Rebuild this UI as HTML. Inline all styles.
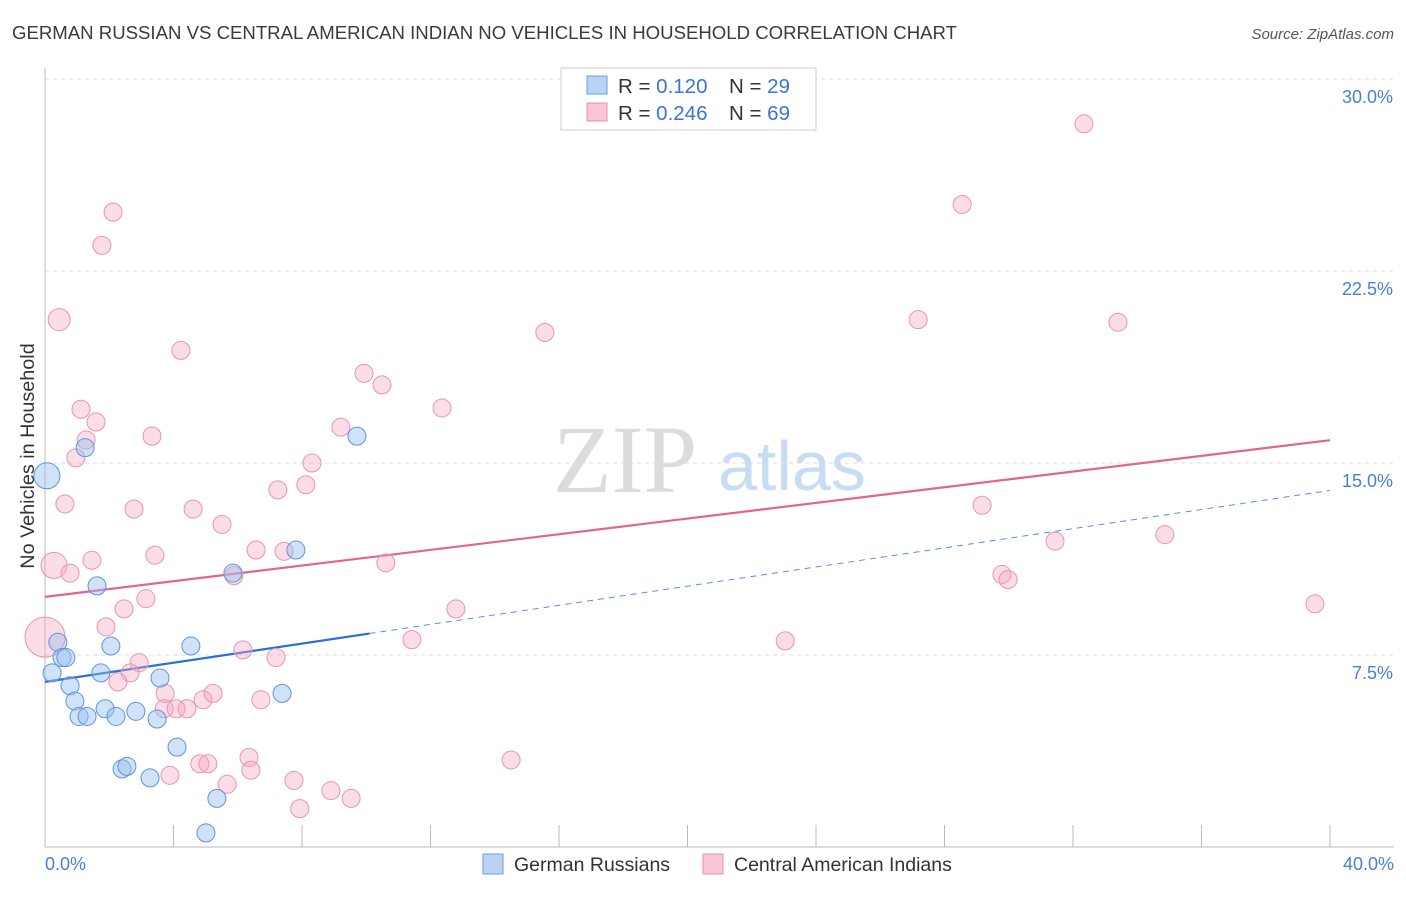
<!DOCTYPE html>
<html><head><meta charset="utf-8"><style>
body{margin:0;background:#fff;font-family:"Liberation Sans",sans-serif}
</style></head><body>
<svg width="1406" height="892" viewBox="0 0 1406 892" xmlns="http://www.w3.org/2000/svg" font-family="Liberation Sans, sans-serif">
<text x="12" y="39" font-size="18.6" fill="#3a3a3a">GERMAN RUSSIAN VS CENTRAL AMERICAN INDIAN NO VEHICLES IN HOUSEHOLD CORRELATION CHART</text>
<text x="1394" y="39" font-size="15" fill="#555" text-anchor="end" font-style="italic">Source: ZipAtlas.com</text>
<g>
<text x="553" y="492" font-size="96" font-family="Liberation Serif, serif" fill="#dcdcdc">ZIP</text>
<text x="718" y="490" font-size="70" fill="#c9dcf3">atlas</text>
</g>
<g id="grid"></g>
<line x1="45" y1="68" x2="45" y2="847" stroke="#bbb"/>
<line x1="45" y1="847" x2="1394" y2="847" stroke="#bbb"/>
<g id="ticks"></g>
<text x="34" y="456" font-size="19.8" fill="#333" text-anchor="middle" transform="rotate(-90 34 456)">No Vehicles in Household</text>
<text x="45" y="870" font-size="18" fill="#4a7fd4">0.0%</text>
<text x="1394" y="870" font-size="18" fill="#4a7fd4" text-anchor="end">40.0%</text>
<g id="lines"></g>
<g id="points"></g>
<g>
<rect x="561" y="68" width="255" height="62" fill="#fff" stroke="#ccc"/>
<rect x="587" y="76" width="20" height="18" fill="#b9d3f5" stroke="#6a9be0"/>
<rect x="587" y="103" width="20" height="18" fill="#f9c6d6" stroke="#e890b0"/>
<text x="618" y="93" font-size="20.5" fill="#333">R = <tspan fill="#3a74d6">0.120</tspan><tspan x="729">N = </tspan><tspan fill="#3a74d6">29</tspan></text>
<text x="618" y="120" font-size="20.5" fill="#333">R = <tspan fill="#3a74d6">0.246</tspan><tspan x="729">N = </tspan><tspan fill="#3a74d6">69</tspan></text>
</g>
<g>
<rect x="483" y="854" width="20" height="20" fill="#b9d3f5" stroke="#6a9be0"/>
<text x="514" y="871" font-size="19.5" fill="#333">German Russians</text>
<rect x="703" y="854" width="20" height="20" fill="#f9c6d6" stroke="#e890b0"/>
<text x="734" y="871" font-size="19.5" fill="#333">Central American Indians</text>
</g>
</svg>
<script>
const yTicks=[7.5,15.0,22.5,30.0];
const yTickLabels=["7.5%","15.0%","22.5%","30.0%"];
const xTicks=[4,8,12,16,20,24,28,32,36,40];
const blueX=[0.06,0.4,0.53,0.65,0.22,0.78,0.93,1.06,1.31,1.25,1.62,2.05,1.74,1.87,2.21,2.4,2.55,2.83,3.27,3.49,3.58,4.11,4.54,5.01,5.35,5.85,7.38,7.81,9.71];
const blueY=[14.5,8.0,7.4,7.4,6.8,6.3,5.7,5.1,5.1,15.6,10.2,7.85,6.8,5.4,5.1,3.05,3.15,5.3,2.7,5.0,6.6,3.9,7.85,0.55,1.9,10.7,6.0,11.6,16.05];
const blueR=[13,9,9,9,9,9,9,9,9,9,9,9,9,9,9,9,9,9,9,9,9,9,9,9,9,9,9,9,9];
const pinkX=[0.44,2.12,1.77,4.23,1.12,1.59,1.28,0.96,0.62,3.33,2.77,0.28,0.78,1.46,3.42,0,1.9,2.46,3.14,2.93,2.65,2.27,3.74,3.71,4.08,4.42,4.92,5.23,4.61,5.51,5.88,6.16,6.57,6.72,7.25,7.44,7.19,8.12,8.31,9.21,9.93,10.49,10.61,12.36,15.56,11.42,12.79,6.35,6.41,5.67,4.82,5.07,3.89,7.75,7.93,8.9,9.53,14.51,23.04,27.18,28.55,29.17,29.79,29.98,31.44,32.34,33.4,34.86,39.53];
const pinkY=[20.6,24.8,23.5,19.4,17.1,16.6,15.9,15.2,13.4,16.05,13.2,11.0,10.7,11.2,11.4,8.2,8.6,9.3,9.7,7.2,6.8,6.45,6.0,5.4,5.4,5.4,5.75,6.0,13.2,12.6,10.6,7.7,11.6,5.75,13.95,11.55,7.4,14.15,15.0,16.4,18.5,18.05,11.1,17.15,20.1,8.1,9.3,3.5,3.0,2.45,3.25,3.25,2.8,2.6,1.5,2.2,1.9,3.4,8.05,20.6,25.1,13.35,10.65,10.45,11.95,28.25,20.5,12.2,9.5];
const pinkBig={0:11,11:13,15:20};
const blueTrend=[6.45,0.187];
const pinkTrend=[9.77,0.153];
const X=v=>45+v*32.125, Y=v=>847-v*25.6;
const NS="http://www.w3.org/2000/svg";
function mk(t,a,p){const e=document.createElementNS(NS,t);for(const k in a)e.setAttribute(k,a[k]);p.appendChild(e);return e;}
const grid=document.getElementById('grid');
yTicks.forEach((t,i)=>{
 const l=mk('line',{x1:45,x2:1394,y1:Y(t),y2:Y(t),stroke:'#ddd','stroke-dasharray':'4,4'},grid);
 
 
 const tx=mk('text',{x:1393,y:Y(t)+24,'font-size':18,fill:'#4a7fd4','text-anchor':'end'},grid);
 tx.textContent=yTickLabels[i];
 
 
});
const ticks=document.getElementById('ticks');
xTicks.forEach(t=>{
 const l=mk('line',{x1:X(t),x2:X(t),y1:825,y2:847,stroke:'#bbb'},ticks);
 
 
});
const lines=document.getElementById('lines');
let l1=mk('line',{x1:X(0),y1:Y(pinkTrend[0]),x2:X(40),y2:Y(pinkTrend[0]+40*pinkTrend[1]),stroke:'#e2648f','stroke-width':2.2},lines);


let l2=mk('line',{x1:X(0),y1:Y(blueTrend[0]),x2:X(10.1),y2:Y(blueTrend[0]+10.1*blueTrend[1]),stroke:'#2a6fd6','stroke-width':2.2},lines);


let l3=mk('line',{x1:X(10.1),y1:Y(blueTrend[0]+10.1*blueTrend[1]),x2:X(40),y2:Y(blueTrend[0]+40*blueTrend[1]),stroke:'#5a8ee0','stroke-width':1,'stroke-dasharray':'6,5'},lines);


const pts=document.getElementById('points');
pinkX.forEach((x,i)=>{
 const c=mk('circle',{cx:X(x),cy:Y(pinkY[i]),r:pinkBig[i]||9,fill:'rgba(245,165,192,0.38)',stroke:'#e993b3','stroke-width':1},pts);
 
 
});
blueX.forEach((x,i)=>{
 const c=mk('circle',{cx:X(x),cy:Y(blueY[i]),r:blueR[i],fill:'rgba(150,190,240,0.45)',stroke:'#5f93de','stroke-width':1},pts);
 
 
});
</script>
</body></html>
